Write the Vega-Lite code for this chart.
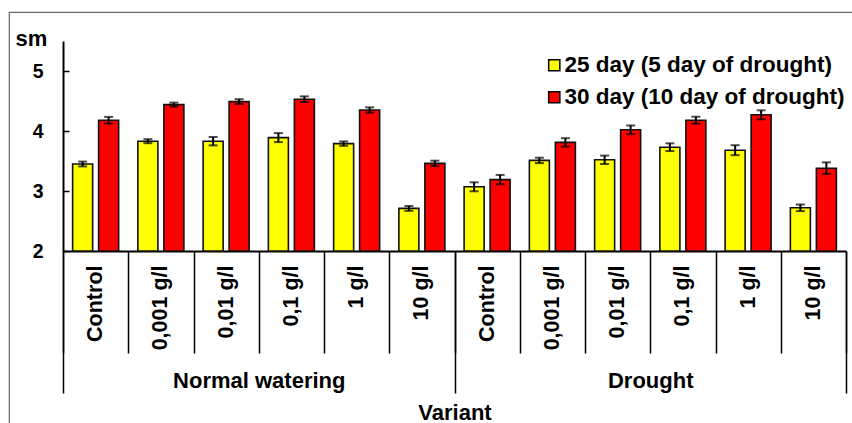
{
  "$schema": "https://vega.github.io/schema/vega-lite/v6.json",
  "width": 853,
  "height": 421,
  "autosize": "none",
  "padding": {"left": 9, "top": 12, "right": 0, "bottom": 0},
  "background": "white",
  "config": {
    "font": "Liberation Sans",
    "view": {"stroke": "#666666", "strokeWidth": 1.2},
    "axis": {"grid": false, "labelColor": "#000", "titleColor": "#000", "domainColor": "#000", "tickColor": "#000", "labelFontWeight": "bold", "titleFontWeight": "bold"}
  },
  "datasets": {
    "bars": [
      {"cat": "N|Control", "series": "25 day (5 day of drought)", "value": 3.45, "lo": 3.41, "hi": 3.49},
      {"cat": "N|Control", "series": "30 day (10 day of drought)", "value": 4.18, "lo": 4.125, "hi": 4.235},
      {"cat": "N|0,001 g/l", "series": "25 day (5 day of drought)", "value": 3.83, "lo": 3.797, "hi": 3.863},
      {"cat": "N|0,001 g/l", "series": "30 day (10 day of drought)", "value": 4.44, "lo": 4.407, "hi": 4.473},
      {"cat": "N|0,01 g/l", "series": "25 day (5 day of drought)", "value": 3.83, "lo": 3.76, "hi": 3.9},
      {"cat": "N|0,01 g/l", "series": "30 day (10 day of drought)", "value": 4.49, "lo": 4.45, "hi": 4.53},
      {"cat": "N|0,1 g/l", "series": "25 day (5 day of drought)", "value": 3.89, "lo": 3.815, "hi": 3.965},
      {"cat": "N|0,1 g/l", "series": "30 day (10 day of drought)", "value": 4.53, "lo": 4.483, "hi": 4.577},
      {"cat": "N|1 g/l", "series": "25 day (5 day of drought)", "value": 3.79, "lo": 3.754, "hi": 3.826},
      {"cat": "N|1 g/l", "series": "30 day (10 day of drought)", "value": 4.35, "lo": 4.306, "hi": 4.394},
      {"cat": "N|10 g/l", "series": "25 day (5 day of drought)", "value": 2.71, "lo": 2.67, "hi": 2.75},
      {"cat": "N|10 g/l", "series": "30 day (10 day of drought)", "value": 3.46, "lo": 3.415, "hi": 3.505},
      {"cat": "D|Control", "series": "25 day (5 day of drought)", "value": 3.07, "lo": 2.995, "hi": 3.145},
      {"cat": "D|Control", "series": "30 day (10 day of drought)", "value": 3.19, "lo": 3.112, "hi": 3.268},
      {"cat": "D|0,001 g/l", "series": "25 day (5 day of drought)", "value": 3.51, "lo": 3.465, "hi": 3.555},
      {"cat": "D|0,001 g/l", "series": "30 day (10 day of drought)", "value": 3.81, "lo": 3.74, "hi": 3.88},
      {"cat": "D|0,01 g/l", "series": "25 day (5 day of drought)", "value": 3.52, "lo": 3.45, "hi": 3.59},
      {"cat": "D|0,01 g/l", "series": "30 day (10 day of drought)", "value": 4.02, "lo": 3.948, "hi": 4.092},
      {"cat": "D|0,1 g/l", "series": "25 day (5 day of drought)", "value": 3.73, "lo": 3.666, "hi": 3.794},
      {"cat": "D|0,1 g/l", "series": "30 day (10 day of drought)", "value": 4.18, "lo": 4.122, "hi": 4.238},
      {"cat": "D|1 g/l", "series": "25 day (5 day of drought)", "value": 3.68, "lo": 3.597, "hi": 3.763},
      {"cat": "D|1 g/l", "series": "30 day (10 day of drought)", "value": 4.27, "lo": 4.195, "hi": 4.345},
      {"cat": "D|10 g/l", "series": "25 day (5 day of drought)", "value": 2.72, "lo": 2.665, "hi": 2.775},
      {"cat": "D|10 g/l", "series": "30 day (10 day of drought)", "value": 3.38, "lo": 3.283, "hi": 3.477}
    ],
    "groups": [
      {"group": "Normal watering"},
      {"group": "Drought"}
    ]
  },
  "layer": [
    {
      "data": {"name": "bars"},
      "encoding": {
        "x": {
          "field": "cat", "type": "nominal", "sort": null,
          "scale": {"type": "band", "range": [54, 837], "paddingInner": 0, "paddingOuter": 0},
          "axis": {
            "orient": "bottom", "offset": -182, "title": null,
            "labelExpr": "split(datum.value, '|')[1]",
            "labelAngle": -90, "labelFontSize": 21.5, "labelPadding": -88,
            "labelOverlap": false, "labelBound": false, "labelLimit": 300,
            "tickBand": "extent", "tickSize": 102, "tickWidth": 1.5,
            "domainWidth": 2
          }
        },
        "xOffset": {
          "field": "series", "type": "nominal",
          "scale": {"paddingInner": 0.23, "paddingOuter": 0.37}
        }
      },
      "layer": [
        {
          "mark": {"type": "bar", "stroke": "#111", "strokeWidth": 1.6},
          "encoding": {
            "y": {
              "field": "value", "type": "quantitative",
              "scale": {"domain": [2, 5.5], "range": [239, 29], "nice": false, "zero": false},
              "axis": {
                "offset": -54, "values": [2, 3, 4, 5], "format": "d", "tickSize": -6, "tickWidth": 1.5,
                "domainWidth": 2, "labelFontSize": 19.5, "labelPadding": 26,
                "title": "sm", "titleAngle": 0, "titleFontSize": 22, "titleAlign": "center",
                "titleBaseline": "alphabetic", "titleX": -32, "titleY": 33
              }
            },
            "y2": {"datum": 2},
            "fill": {
              "field": "series", "type": "nominal",
              "scale": {"range": ["#FFFF00", "#FF0000"]},
              "legend": {
                "orient": "none", "legendX": 534, "legendY": 42, "title": null,
                "padding": 0, "symbolType": "square", "symbolSize": 125,
                "symbolStrokeColor": "#000", "symbolStrokeWidth": 1.5, "symbolOpacity": 1,
                "labelFontSize": 22.5, "labelFontWeight": "bold", "labelColor": "#000",
                "labelLimit": 400, "labelOffset": -1, "rowPadding": 9
              }
            }
          }
        },
        {
          "mark": {"type": "rule", "color": "#000", "strokeWidth": 2},
          "encoding": {
            "y": {"field": "lo", "type": "quantitative", "title": "sm"},
            "y2": {"field": "hi"}
          }
        },
        {
          "mark": {"type": "tick", "color": "#000", "size": 9, "thickness": 2},
          "encoding": {
            "y": {"field": "lo", "type": "quantitative", "title": "sm"}
          }
        },
        {
          "mark": {"type": "tick", "color": "#000", "size": 9, "thickness": 2},
          "encoding": {
            "y": {"field": "hi", "type": "quantitative", "title": "sm"}
          }
        }
      ]
    },
    {
      "data": {"name": "groups"},
      "mark": {"type": "rule", "opacity": 0},
      "encoding": {
        "x": {
          "field": "group", "type": "nominal", "sort": null,
          "scale": {"type": "band", "range": [54, 837], "paddingInner": 0, "paddingOuter": 0},
          "axis": {
            "orient": "bottom", "offset": -182, "title": "Variant",
            "labelAngle": 0, "labelFontSize": 22, "labelBaseline": "alphabetic", "labelPadding": -6,
            "tickBand": "extent", "tickSize": 142, "tickWidth": 1.5, "domain": false,
            "titleFontSize": 22, "titleBaseline": "alphabetic", "titleY": 168
          }
        }
      }
    }
  ],
  "resolve": {"scale": {"x": "independent"}}
}
